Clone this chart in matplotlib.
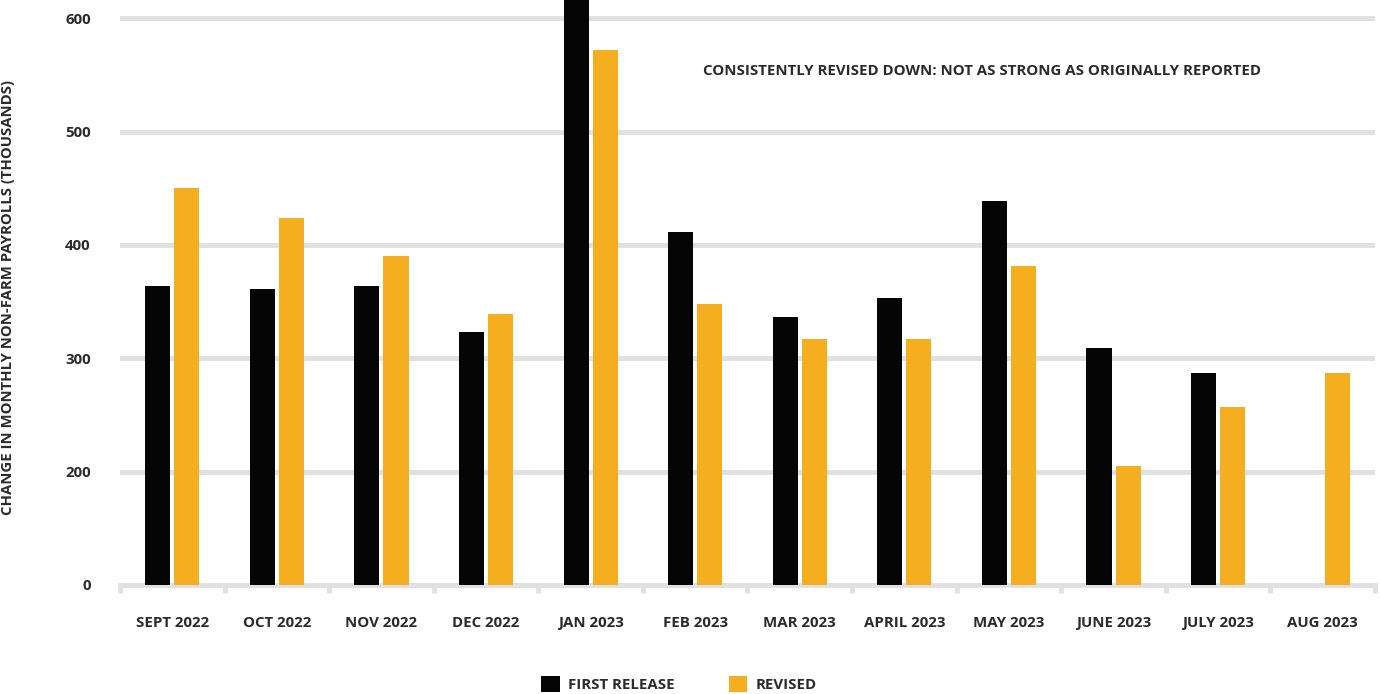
import matplotlib
matplotlib.use("Agg")
import matplotlib.pyplot as plt
import numpy as np

# Monthly non-farm payroll changes (thousands)
months = ["SEPT 2022", "OCT 2022", "NOV 2022", "DEC 2022", "JAN 2023", "FEB 2023",
          "MAR 2023", "APRIL 2023", "MAY 2023", "JUNE 2023", "JULY 2023", "AUG 2023"]
first_release = [264, 261, 264, 223, 517, 311, 236, 253, 339, 209, 187, np.nan]
revised = [350, 324, 290, 239, 472, 248, 217, 217, 281, 105, 157, 187]

# gridline positions and the labels the original chart printed on them
grid_vals = [0, 100, 200, 300, 400, 500]
grid_labels = ["0", "200", "300", "400", "500", "600"]

BLACK = "#050505"
ORANGE = "#f5ae20"
GREY = "#e1e1e1"
TEXT = "#2b2b2b"
FS = 10.8

plt.rcParams["font.family"] = ["Open Sans", "DejaVu Sans"]
plt.rcParams["font.weight"] = "bold"
plt.rcParams["axes.labelweight"] = "bold"

fig = plt.figure(figsize=(13.8, 6.94), dpi=100)
ax = fig.add_axes([120 / 1380, (694 - 585) / 694, 1255 / 1380, 585 / 694])

x = np.arange(len(months))
w = 0.24
off = 0.139
ax.bar(x - off, first_release, width=w, color=BLACK, label="FIRST RELEASE", zorder=3)
ax.bar(x + off, revised, width=w, color=ORANGE, label="REVISED", zorder=3)

ax.set_xlim(-0.5, len(months) - 0.5)
ax.set_ylim(0, 516)

ax.set_yticks(grid_vals)
ax.set_yticklabels(grid_labels)
ax.yaxis.grid(True, color=GREY, linewidth=3.6)
ax.set_axisbelow(True)
ax.tick_params(axis="y", length=0, pad=21, labelsize=FS, labelcolor=TEXT)

ax.set_xticks(x)
ax.set_xticklabels(months)
ax.set_xticks(np.arange(-0.5, len(months)), minor=True)
ax.tick_params(axis="x", which="major", length=0, pad=22, labelsize=FS, labelcolor=TEXT)
ax.tick_params(axis="x", which="minor", length=6, width=3.6, color=GREY, direction="out")

for side in ["top", "right", "left"]:
    ax.spines[side].set_visible(False)
ax.spines["bottom"].set_color(GREY)
ax.spines["bottom"].set_linewidth(3.6)
ax.spines["bottom"].set_zorder(2)

ax.set_ylabel("CHANGE IN MONTHLY NON-FARM PAYROLLS (THOUSANDS)", fontsize=10.7,
              fontweight="bold", color=TEXT, labelpad=0)
ax.yaxis.set_label_coords(-105 / 1255, 0.492)

ax.text(0.687, 0.879, "CONSISTENTLY REVISED DOWN: NOT AS STRONG AS ORIGINALLY REPORTED",
        transform=ax.transAxes, ha="center", va="center", fontsize=FS, color=TEXT)

leg = fig.legend(loc="lower center", bbox_to_anchor=(0.492, -0.017), ncol=2, frameon=False,
                 fontsize=FS, handlelength=1.25, handleheight=1.25, handletextpad=0.55,
                 columnspacing=3.6)
for t in leg.get_texts():
    t.set_color(TEXT)

fig.savefig("out.png", dpi=100)
